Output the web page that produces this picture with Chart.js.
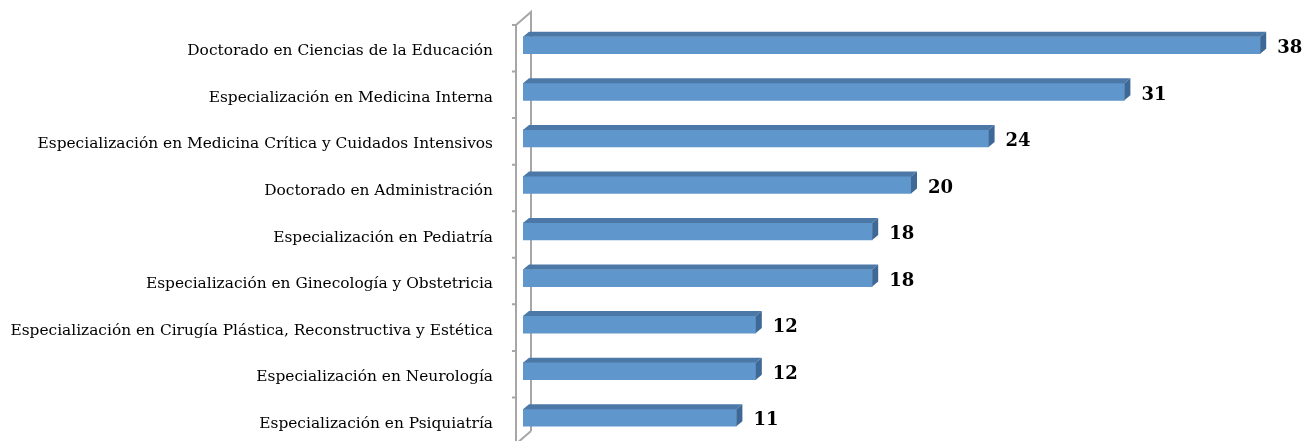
<!DOCTYPE html>
<html>
<head>
<meta charset="utf-8">
<script src="https://cdn.jsdelivr.net/npm/chart.js@4.4.0/dist/chart.umd.min.js"></script>
<style>
  html, body { margin: 0; padding: 0; background: #fff; overflow: hidden; }
  canvas { display: block; }
</style>
</head>
<body>
<canvas id="myChart" width="1307" height="441"></canvas>
<script>
const categories = [
  'Doctorado en Ciencias de la Educación',
  'Especialización en Medicina Interna',
  'Especialización en Medicina Crítica y Cuidados Intensivos',
  'Doctorado en Administración',
  'Especialización en Pediatría',
  'Especialización en Ginecología y Obstetricia',
  'Especialización en Cirugía Plástica, Reconstructiva y Estética',
  'Especialización en Neurología',
  'Especialización en Psiquiatría'
];
const values = [38, 31, 24, 20, 18, 18, 12, 12, 11];
const xMax = 40;

const FRONT = '#5f96cc';
const TOP = '#4c78a8';
const SIDE = '#3e6895';
const WALL = '#a6a6a6';
const DX = 6, DY = 5;

// 3d wall on the left, drawn behind the bars
const wallPlugin = {
  id: 'wall',
  beforeDatasetsDraw(chart) {
    const ctx = chart.ctx;
    const ys = chart.scales.y;
    const left = chart.chartArea.left;
    const fx = left - 7, bx = left + 8;
    const n = categories.length;
    const top = ys.getPixelForValue(-0.5) + 3;
    const bottom = ys.getPixelForValue(n - 0.5) + 3;
    ctx.save();
    ctx.strokeStyle = WALL;
    ctx.lineWidth = 2;
    ctx.beginPath();
    ctx.moveTo(fx, top); ctx.lineTo(fx, bottom);
    ctx.moveTo(fx, top); ctx.lineTo(bx, top - 13); ctx.lineTo(bx, bottom - 13);
    ctx.moveTo(fx, bottom); ctx.lineTo(bx, bottom - 13);
    for (let i = 0; i <= n; i++) {
      const y = ys.getPixelForValue(i - 0.5) + 3;
      ctx.moveTo(fx - 4, y); ctx.lineTo(fx, y);
    }
    ctx.stroke();
    ctx.restore();
  }
};

// top and side faces plus the value labels
const barPlugin = {
  id: 'bar3d',
  afterDatasetsDraw(chart) {
    const ctx = chart.ctx;
    const meta = chart.getDatasetMeta(0);
    ctx.save();
    meta.data.forEach((bar, i) => {
      const h = bar.height;
      const t = bar.y - h / 2, b = bar.y + h / 2;
      const l = bar.base, r = bar.x;
      ctx.fillStyle = TOP;
      ctx.beginPath();
      ctx.moveTo(l, t); ctx.lineTo(l + DX, t - DY); ctx.lineTo(r + DX, t - DY); ctx.lineTo(r, t);
      ctx.closePath(); ctx.fill();
      ctx.fillStyle = SIDE;
      ctx.beginPath();
      ctx.moveTo(r, t); ctx.lineTo(r + DX, t - DY); ctx.lineTo(r + DX, b - DY); ctx.lineTo(r, b);
      ctx.closePath(); ctx.fill();
      ctx.fillStyle = '#000';
      ctx.font = 'bold 18px "DejaVu Serif"';
      ctx.textAlign = 'left';
      ctx.textBaseline = 'middle';
      ctx.fillText(String(values[i]), r + 17, bar.y + 3);
    });
    ctx.restore();
  }
};

const ctx = document.getElementById('myChart').getContext('2d');
const myChart = new Chart(ctx, {
  type: 'bar',
  data: {
    labels: categories,
    datasets: [{
      data: values,
      backgroundColor: FRONT,
      borderWidth: 0,
      barThickness: 17
    }]
  },
  options: {
    indexAxis: 'y',
    responsive: false,
    animation: false,
    devicePixelRatio: 1,
    layout: { padding: { top: 22, right: 8, bottom: 0, left: 0 } },
    plugins: {
      legend: { display: false },
      tooltip: { enabled: false }
    },
    scales: {
      x: {
        min: 0,
        max: xMax,
        display: false
      },
      y: {
        grid: { display: false },
        border: { display: false },
        afterFit(scale) {
          scale.width = 523;
          scale.paddingTop = 0;
          scale.paddingBottom = 0;
        },
        ticks: {
          color: '#000',
          padding: 22,
          labelOffset: 6,
          font: { family: 'DejaVu Serif', size: 15.4 }
        }
      }
    }
  },
  plugins: [wallPlugin, barPlugin]
});
</script>
</body>
</html>
